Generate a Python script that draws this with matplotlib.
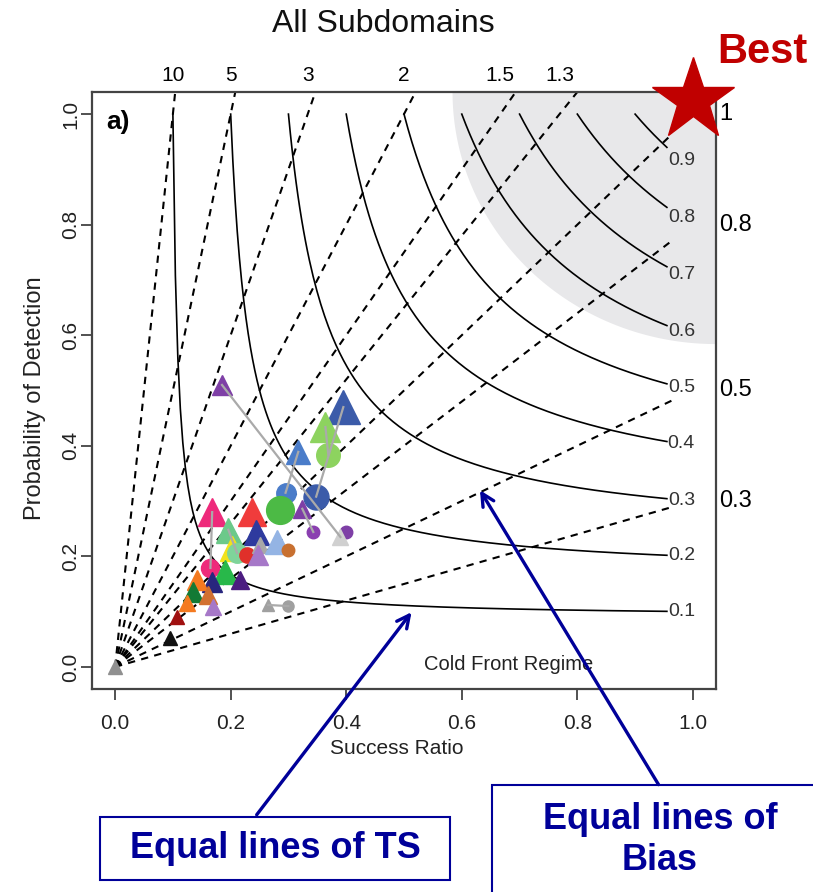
import numpy as np
import matplotlib
matplotlib.use("Agg")
import matplotlib.pyplot as plt
from matplotlib.patches import Rectangle

plt.rcParams['font.family'] = ['Liberation Sans', 'DejaVu Sans']

# skill score lines
ts_levels = [0.1, 0.2, 0.3, 0.4, 0.5, 0.6, 0.7, 0.8, 0.9]
bias_top = [10, 5, 3, 2, 1.5, 1.3]
bias_right = [1, 0.8, 0.5, 0.3]

# forecast points (success ratio, POD)
sr = [0.185, 0.395, 0.364, 0.369, 0.317, 0.295, 0.348, 0.286, 0.324, 0.343,
      0.399, 0.390, 0.168, 0.237, 0.196, 0.243, 0.203, 0.211, 0.229, 0.251,
      0.248, 0.281, 0.300, 0.165, 0.191, 0.168, 0.217, 0.142, 0.135, 0.161,
      0.125, 0.170, 0.107, 0.265, 0.300, 0.095, 0.0]
pod = [0.510, 0.470, 0.434, 0.383, 0.389, 0.315, 0.308, 0.284, 0.286, 0.244,
       0.244, 0.235, 0.280, 0.280, 0.248, 0.244, 0.215, 0.206, 0.203, 0.221,
       0.203, 0.226, 0.212, 0.179, 0.172, 0.154, 0.157, 0.157, 0.136, 0.130,
       0.116, 0.108, 0.090, 0.112, 0.110, 0.052, 0.0]
shape = ['^', '^', '^', 'o', '^', 'o', 'o', 'o', '^', 'o',
         'o', '^', '^', '^', '^', '^', '^', 'o', 'o', '^',
         '^', '^', 'o', 'o', '^', '^', '^', '^', '^', '^',
         '^', '^', '^', '^', 'o', '^', '^']
color = ['#7e3fa6', '#3b5ba9', '#8dd35f', '#8dd35f', '#4a7cc9', '#4a7cc9', '#3b5ba9', '#4cba45', '#7e3fa6', '#8a3fb0',
         '#7e3fa6', '#d0d0d0', '#ee2a7b', '#f03c3c', '#6cc98a', '#2e3a9e', '#f2e21c', '#7fd49a', '#e0302a', '#a8a8a8',
         '#a678c8', '#94b4e4', '#c87030', '#ee2a7b', '#28b84a', '#28267e', '#4b1c80', '#f47a20', '#137a35', '#d27030',
         '#f47a20', '#a678c8', '#a01010', '#a0a0a0', '#a0a0a0', '#111111', '#909090']
msize = [15, 24, 22, 17, 17, 14, 18, 20, 13, 9,
         9, 11, 20, 20, 18, 18, 18, 14, 11, 12,
         15, 17, 9, 13, 17, 15, 13, 14, 15, 13,
         12, 11, 10, 8, 8, 10, 10]
links = [(0, 11), (1, 6), (2, 3), (4, 5), (8, 9), (12, 23), (14, 17), (33, 34)]

fig = plt.figure(figsize=(8.13, 8.92), dpi=100)
ax = fig.add_axes([92 / 813, 1 - 689 / 892, 624 / 813, 597 / 892])
ax.set_xlim(-0.04, 1.04)
ax.set_ylim(-0.04, 1.04)

# shaded "best" corner
th = np.linspace(np.pi, 1.5 * np.pi, 100)
ax.fill(np.r_[1.04, 1.04 + 0.456 * np.cos(th)], np.r_[1.04, 1.04 + 0.456 * np.sin(th)],
        color='#e8e8ea', lw=0, zorder=0)

# bias lines
for b in bias_top + bias_right:
    if b > 1:
        xe, ye = 1.04 / b, 1.04
    else:
        xe, ye = 0.965, 0.965 * b
    ax.plot([0, xe], [0, ye], color='black', lw=1.5, dashes=(3.5, 3), zorder=1)
for b in bias_top:
    ax.text(1 / b, 1.07, '%g' % b, ha='center', va='center', fontsize=15)
for b in bias_right:
    ax.text(1.045, b, '%g' % b, ha='left', va='center', fontsize=17)

# threat score lines
for t in ts_levels:
    x = np.linspace(t, 0.955, 200)
    y = 1 / (1 / t - 1 / x + 1)
    ax.plot(x, y, color='black', lw=1.2, zorder=2)
    ax.text(0.98, 1 / (1 / t - 1 / 0.98 + 1), '%g' % t, ha='center', va='center',
            fontsize=14, color='#333333')

for i in range(len(sr)):
    ax.plot(sr[i], pod[i], marker=shape[i], ms=msize[i], color=color[i], mec=color[i], ls='none',
            zorder=3, clip_on=False)
for i, j in links:
    ax.plot([sr[i], sr[j]], [pod[i], pod[j]], color='#aaaaaa', lw=1.6, zorder=4)

ax.text(-0.015, 0.985, 'a)', ha='left', va='center', fontsize=19, fontweight='bold')
ax.text(0.681, 0.005, 'Cold Front Regime', ha='center', va='center', fontsize=14.5, color='#222222')

ax.set_xticks([0, 0.2, 0.4, 0.6, 0.8, 1.0])
ax.set_yticks([0, 0.2, 0.4, 0.6, 0.8, 1.0])
ax.set_xticklabels(['0.0', '0.2', '0.4', '0.6', '0.8', '1.0'])
ax.set_yticklabels(['0.0', '0.2', '0.4', '0.6', '0.8', '1.0'], rotation=90, va='center')
ax.tick_params(direction='out', length=8, width=1.2, labelsize=15, colors='#333333')
ax.tick_params(axis='x', labelcolor='#222222', pad=10)
ax.tick_params(axis='y', labelcolor='#222222', pad=0.5)
for s in ax.spines.values():
    s.set_linewidth(1.6)
    s.set_color('#444444')

fig.text(35 / 813, 1 - 398 / 892, 'Probability of Detection', rotation=90, ha='center', va='center',
         fontsize=17, color='#222222')
fig.text(397 / 813, 1 - 748 / 892, 'Success Ratio', ha='center', va='center', fontsize=15, color='#222222')
fig.text(383 / 813, 1 - 24 / 892, 'All Subdomains', ha='center', va='center', fontsize=23, color='#111111')

# best marker
ax.plot(1.0, 1.025, marker='*', ms=62, color='#c00000', clip_on=False, zorder=10)
fig.text(762 / 813, 1 - 52 / 892, 'Best', ha='center', va='center', fontsize=30, fontweight='bold',
         color='#c00000')

# annotation boxes
navy = '#000099'
fig.patches.append(Rectangle((100, 12), 350, 63, transform=None, fill=False, ec=navy, lw=1.5))
fig.patches.append(Rectangle((492, -10), 340, 117, transform=None, fill=False, ec=navy, lw=1.5))
fig.text(275 / 813, 1 - 848 / 892, 'Equal lines of TS', ha='center', va='center', fontsize=26,
         fontweight='bold', color=navy)
fig.text(660 / 813, 1 - 840 / 892, 'Equal lines of\nBias', ha='center', va='center', fontsize=26,
         fontweight='bold', color=navy, linespacing=1.2)
ax.annotate('', xy=(0.516, 0.103), xycoords='data', xytext=(255, 75), textcoords='figure pixels',
            arrowprops=dict(arrowstyle='->,head_length=0.9,head_width=0.45', color=navy, lw=2.4),
            zorder=11)
ax.annotate('', xy=(0.629, 0.324), xycoords='data', xytext=(660, 105), textcoords='figure pixels',
            arrowprops=dict(arrowstyle='->,head_length=0.9,head_width=0.45', color=navy, lw=2.4),
            zorder=11)

fig.savefig('out.png', dpi=100)
